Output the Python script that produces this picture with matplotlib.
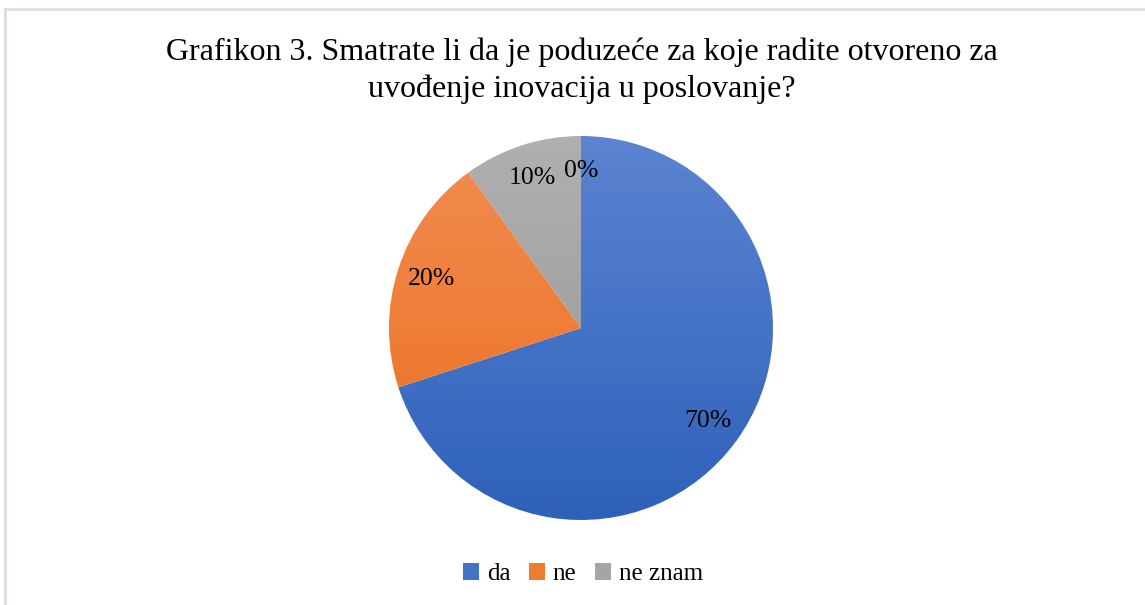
import matplotlib
matplotlib.use("Agg")
import matplotlib.pyplot as plt
import numpy as np
from matplotlib.patches import Rectangle
from matplotlib.lines import Line2D

categories = ["da", "ne", "ne znam", ""]
values = [70, 20, 10, 0]
title_lines = ["Grafikon 3. Smatrate li da je poduzeće za koje radite otvoreno za",
               "uvođenje inovacija u poslovanje?"]
top_colors = ["#5B84D1", "#F18D53", "#B0B0B0", "#B0B0B0"]
bot_colors = ["#2E61BA", "#EC6E1C", "#959595", "#959595"]

W, H = 1145, 605
fig = plt.figure(figsize=(W / 100, H / 100), dpi=100)
fig.patch.set_facecolor("white")
serif = ["Liberation Serif", "DejaVu Serif"]

# border (top and left visible)
fig.add_artist(Line2D([5 / W, 5 / W], [0, 1 - 9 / H], transform=fig.transFigure, color="#DADDE3", lw=2))
fig.add_artist(Line2D([5 / W, 1], [1 - 9 / H, 1 - 9 / H], transform=fig.transFigure, color="#DADDE3", lw=2))

cx, cy, r = 581, 328, 192
ax = fig.add_axes([(cx - r) / W, (H - cy - r) / H, 2 * r / W, 2 * r / H])
ax.axis("off")

wedges, texts, autotexts = ax.pie(
    values, startangle=90, counterclock=False, radius=1,
    autopct=lambda p: f"{p:.0f}%", pctdistance=0.82,
    textprops=dict(family=serif, fontsize=18.5, color="black"),
    wedgeprops=dict(linewidth=0))

def hex2rgb(h):
    return np.array([int(h[i:i + 2], 16) / 255 for i in (1, 3, 5)])

for w, tc, bc in zip(wedges, top_colors, bot_colors):
    w.set_facecolor("none")
    t = np.linspace(0, 1, 256)[:, None]
    grad = (1 - t) * hex2rgb(tc) + t * hex2rgb(bc)
    img = np.repeat(grad[:, None, :], 2, axis=1)
    im = ax.imshow(img, extent=[-1, 1, -1, 1], origin="upper", aspect="auto", zorder=0.5)
    im.set_clip_path(w)
ax.set_xlim(-1, 1)
ax.set_ylim(-1, 1)
ax.set_aspect("equal")

for at in autotexts:
    at.set_zorder(3)

fig.text(581.5 / W, 1 - 60 / H, title_lines[0], ha="center", va="baseline", fontsize=23, family=serif)
fig.text(582 / W, 1 - 97 / H, title_lines[1], ha="center", va="baseline", fontsize=23, family=serif)

# legend
handles = [Rectangle((0, 0), 1, 1, facecolor=c) for c in ["#4472C4", "#ED7D31", "#A5A5A5"]]
fig.legend(handles, categories[:3], loc="center", bbox_to_anchor=(583 / W, 1 - 574 / H), ncol=3,
           frameon=False, prop=dict(family=serif, size=18), handlelength=0.65, handleheight=0.65,
           handletextpad=0.3, columnspacing=0.75)

fig.savefig("out.png", dpi=100, facecolor="white")
